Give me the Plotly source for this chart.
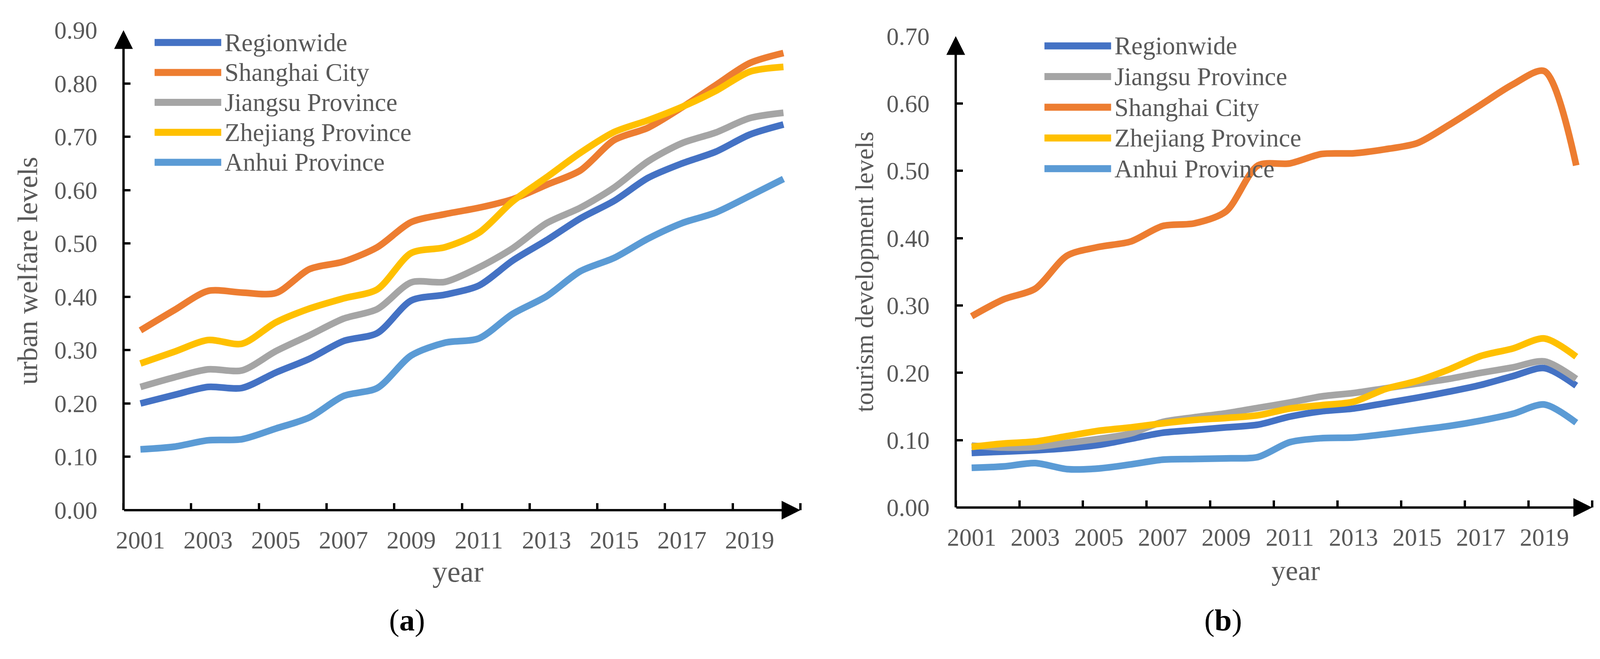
import plotly.graph_objects as go

# ---------------- data ----------------
years = list(range(2001, 2021))
label_years = years[::2]

names_a = ["Regionwide", "Shanghai City", "Jiangsu Province", "Zhejiang Province", "Anhui Province"]
names_b = ["Regionwide", "Jiangsu Province", "Shanghai City", "Zhejiang Province", "Anhui Province"]

# (a) urban welfare levels
welfare_regionwide = [0.200, 0.216, 0.231, 0.229, 0.258, 0.284, 0.317, 0.332, 0.393, 0.404,
                      0.421, 0.468, 0.506, 0.547, 0.580, 0.623, 0.650, 0.672, 0.704, 0.723]
welfare_shanghai = [0.337, 0.375, 0.411, 0.408, 0.407, 0.452, 0.466, 0.493, 0.540, 0.555,
                    0.567, 0.583, 0.610, 0.637, 0.694, 0.717, 0.755, 0.797, 0.838, 0.857]
welfare_jiangsu = [0.231, 0.249, 0.264, 0.262, 0.298, 0.328, 0.359, 0.377, 0.427, 0.428,
                   0.455, 0.491, 0.538, 0.567, 0.605, 0.654, 0.688, 0.708, 0.735, 0.745]
welfare_zhejiang = [0.275, 0.297, 0.319, 0.312, 0.352, 0.378, 0.397, 0.414, 0.482, 0.493,
                    0.520, 0.579, 0.624, 0.670, 0.709, 0.731, 0.756, 0.786, 0.822, 0.831]
welfare_anhui = [0.114, 0.119, 0.131, 0.133, 0.153, 0.174, 0.214, 0.229, 0.290, 0.314,
                 0.322, 0.368, 0.401, 0.448, 0.473, 0.509, 0.538, 0.558, 0.589, 0.621]

# (b) tourism development levels
tourism_regionwide = [0.081, 0.083, 0.085, 0.088, 0.093, 0.102, 0.111, 0.115, 0.119, 0.123,
                      0.135, 0.143, 0.147, 0.155, 0.163, 0.172, 0.182, 0.195, 0.207, 0.181]
tourism_jiangsu = [0.092, 0.089, 0.090, 0.096, 0.102, 0.110, 0.127, 0.134, 0.140, 0.148,
                   0.156, 0.165, 0.170, 0.177, 0.184, 0.191, 0.200, 0.208, 0.217, 0.191]
tourism_shanghai = [0.284, 0.309, 0.325, 0.374, 0.387, 0.395, 0.418, 0.422, 0.440, 0.508,
                    0.511, 0.525, 0.526, 0.532, 0.541, 0.568, 0.598, 0.628, 0.648, 0.508]
tourism_zhejiang = [0.090, 0.095, 0.098, 0.106, 0.114, 0.119, 0.125, 0.130, 0.133, 0.137,
                    0.147, 0.152, 0.157, 0.176, 0.188, 0.205, 0.225, 0.236, 0.251, 0.224]
tourism_anhui = [0.059, 0.061, 0.066, 0.057, 0.058, 0.064, 0.071, 0.072, 0.073, 0.075,
                 0.097, 0.103, 0.104, 0.109, 0.115, 0.121, 0.129, 0.139, 0.153, 0.126]

series_a = [welfare_regionwide, welfare_shanghai, welfare_jiangsu, welfare_zhejiang, welfare_anhui]
series_b = [tourism_regionwide, tourism_jiangsu, tourism_shanghai, tourism_zhejiang, tourism_anhui]

colors = {
    "Regionwide": "#4472C4",
    "Shanghai City": "#ED7D31",
    "Jiangsu Province": "#A5A5A5",
    "Zhejiang Province": "#FFC000",
    "Anhui Province": "#5B9BD5",
}

# ---------------- layout constants ----------------
# positions below are measured on a 4251 x 1687 reference and expressed as
# fractions of the figure, so the layout fills whatever width the window offers
REF_W, REF_H = 4251, 1687
FIG_W = 4096          # usable width of the browser viewport
FONT = "Liberation Serif"
GREY = "#595959"
LW = 17


def px_x(p):
    return p / REF_W


def px_y(p):
    return 1 - p / REF_H


fig = go.Figure()

for name, vals in zip(names_a, series_a):
    fig.add_trace(go.Scatter(x=years, y=vals, name=name, mode="lines",
                             line=dict(color=colors[name], width=LW, shape="spline", smoothing=0.8),
                             xaxis="x", yaxis="y", showlegend=False))
for name, vals in zip(names_b, series_b):
    fig.add_trace(go.Scatter(x=years, y=vals, name=name, mode="lines",
                             line=dict(color=colors[name], width=LW, shape="spline", smoothing=0.8),
                             xaxis="x2", yaxis="y2", showlegend=False))

xrange = [years[0] - 0.5, years[-1] + 0.5]


def xaxis_cfg(domain, anchor):
    return dict(domain=domain, anchor=anchor, range=xrange,
                tickmode="array", tickvals=label_years, ticktext=[str(y) for y in label_years],
                ticks="", showline=False, showgrid=False, zeroline=False,
                tickfont=dict(family=FONT, size=63, color=GREY),
                ticklabelstandoff=34,
                minor=dict(ticks="inside", ticklen=18, tickwidth=6, tickcolor="black",
                           tick0=xrange[0], dtick=2, showgrid=False))


def yaxis_cfg(domain, anchor, top):
    return dict(domain=domain, anchor=anchor, range=[0, top], tick0=0, dtick=0.1,
                tickformat=".2f", ticks="inside", ticklen=18, tickwidth=6, tickcolor="black",
                showline=False, showgrid=False, zeroline=False,
                tickfont=dict(family=FONT, size=63, color=GREY),
                ticklabelstandoff=66)


fig.update_layout(
    width=FIG_W, height=REF_H,
    margin=dict(l=0, r=0, t=0, b=0),
    paper_bgcolor="white", plot_bgcolor="white",
    showlegend=False,
    xaxis=xaxis_cfg([px_x(307), px_x(2115)], "y"),
    yaxis=yaxis_cfg([px_y(1327), px_y(45)], "x", 0.9),
    xaxis2=xaxis_cfg([px_x(2530), px_x(4230)], "y2"),
    yaxis2=yaxis_cfg([px_y(1320), px_y(61)], "x2", 0.7),
)

annotations = []
shapes = []

# axis lines with solid arrowheads
for xr, yr, top in [("x", "y", 0.9), ("x2", "y2", 0.7)]:
    annotations.append(dict(x=xrange[1], y=0, xref=xr, yref=yr, ax=xrange[0], ay=0,
                            axref=xr, ayref=yr, text="", showarrow=True, arrowhead=2,
                            arrowsize=1.6, arrowwidth=6, arrowcolor="black", standoff=0))
    annotations.append(dict(x=xrange[0], y=top, xref=xr, yref=yr, ax=xrange[0], ay=0,
                            axref=xr, ayref=yr, text="", showarrow=True, arrowhead=2,
                            arrowsize=1.6, arrowwidth=6, arrowcolor="black", standoff=0))

# custom legends (long, thick line samples as in the original)
legend_specs = [
    (names_a, 390, 568, 575, 78, 80),
    (names_b, 2767, 2945, 2952, 87, 82),
]
for names, lx0, lx1, tx, ry0, dy in legend_specs:
    for i, name in enumerate(names):
        ry = ry0 + dy * i
        shapes.append(dict(type="line", xref="paper", yref="paper",
                           x0=px_x(lx0), x1=px_x(lx1), y0=px_y(ry), y1=px_y(ry),
                           line=dict(color=colors[name], width=18)))
        annotations.append(dict(x=px_x(tx), y=px_y(ry), xref="paper", yref="paper",
                                text=name, showarrow=False, xanchor="left", yanchor="middle",
                                font=dict(family=FONT, size=65, color=GREY)))

# axis titles and panel labels
annotations += [
    dict(x=px_x(52), y=px_y(688), xref="paper", yref="paper", text="urban welfare levels",
         textangle=-90, showarrow=False, xanchor="center", yanchor="middle",
         font=dict(family=FONT, size=72, color=GREY)),
    dict(x=px_x(2287), y=px_y(691), xref="paper", yref="paper", text="tourism development levels",
         textangle=-90, showarrow=False, xanchor="center", yanchor="middle",
         font=dict(family=FONT, size=65, color=GREY)),
    dict(x=px_x(1200), y=px_y(1491), xref="paper", yref="paper", text="year",
         showarrow=False, xanchor="center", yanchor="middle",
         font=dict(family=FONT, size=76, color=GREY)),
    dict(x=px_x(3438), y=px_y(1489), xref="paper", yref="paper", text="year",
         showarrow=False, xanchor="center", yanchor="middle",
         font=dict(family=FONT, size=72, color=GREY)),
    dict(x=px_x(1064), y=px_y(1621), xref="paper", yref="paper", text="(<b>a</b>)",
         showarrow=False, xanchor="center", yanchor="middle",
         font=dict(family=FONT, size=79, color="black")),
    dict(x=px_x(3245), y=px_y(1621), xref="paper", yref="paper", text="(<b>b</b>)",
         showarrow=False, xanchor="center", yanchor="middle",
         font=dict(family=FONT, size=79, color="black")),
]

fig.update_layout(annotations=annotations, shapes=shapes)

# no page margin / scrollbars; match the figure width to the real viewport
post = (
    "document.body.style.margin='0';document.body.style.overflow='hidden';"
    "var gd=document.getElementById('{plot_id}');"
    "if(window.innerWidth && Math.abs(window.innerWidth-" + str(FIG_W) + ")>2){"
    "Plotly.relayout(gd,{width:window.innerWidth});}"
)

fig.write_html("out.html", post_script=post, config={"displayModeBar": False})
